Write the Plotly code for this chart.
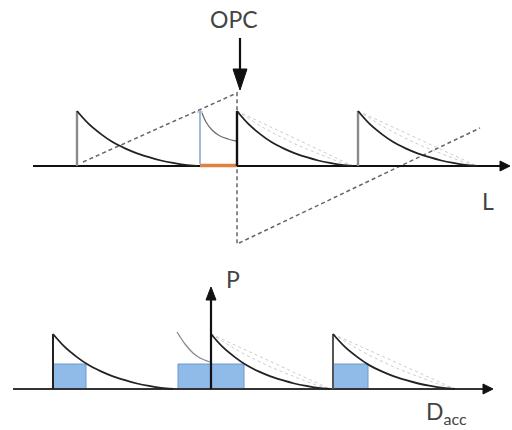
import plotly.graph_objects as go

# ---- diagram data (pixel space of the 512x430 canvas, y grows downward) ----
TOP_BASE = 166
BOT_BASE = 389
PULSE_H = 55

top_pulse_starts = [77, 237, 358]
top_pulse_ends = [197, 353, 477]
bot_pulse_starts = [53, 211, 333]
bot_pulse_ends = [173, 330, 455]

# decay profile (fraction of pulse height vs fraction of length)
decay_t = [0.0, 0.1, 0.2, 0.3, 0.4, 0.5, 0.6, 0.7, 0.8, 0.9, 1.0]
decay_frac = [1.0, 0.76, 0.58, 0.43, 0.32, 0.23, 0.16, 0.10, 0.055, 0.02, 0.0]
fan1_frac = [1.0, 0.9, 0.8, 0.7, 0.6, 0.5, 0.4, 0.3, 0.2, 0.1, 0.0]
fan2_frac = [1.0, 0.86, 0.73, 0.61, 0.5, 0.4, 0.31, 0.22, 0.14, 0.06, 0.0]

# dashed construction lines (top)
dash_x = [83, 237, 237, 480]
dash_y = [162, 93, 244, 128]

# OPC marker pieces
orange_x = [200, 237]
blue_stem_x = 200
blue_stem_top = 110
top_tail_x = [202, 206, 212, 220, 228, 236]
top_tail_y = [113, 122, 130, 136, 139, 141]
bot_tail_x = [177, 185, 193, 200, 210]
bot_tail_y = [332, 344, 353, 358, 362]

# blue boxes (bottom)
box_x0 = [53, 178, 333]
box_x1 = [86, 244, 368]
BOX_TOP = 364

fig = go.Figure()

def line(x, y, color, width, dash=None, shape="linear"):
    fig.add_trace(go.Scatter(x=x, y=y, mode="lines", hoverinfo="skip",
                             line=dict(color=color, width=width, dash=dash, shape=shape)))

def tri(x, y, color):
    fig.add_trace(go.Scatter(x=x, y=y, mode="lines", fill="toself", fillcolor=color,
                             hoverinfo="skip", line=dict(color=color, width=1)))

# boxes
for a, b in zip(box_x0, box_x1):
    fig.add_shape(type="rect", x0=a, x1=b, y0=BOX_TOP, y1=BOT_BASE,
                  fillcolor="rgba(125,175,228,0.85)", line=dict(color="#6A98CF", width=1), layer="below")

# dashed lines
line(dash_x, dash_y, "#666666", 1.5, dash="4px,3px")

# fans for later pulses
for starts, ends, base in [(top_pulse_starts, top_pulse_ends, TOP_BASE),
                           (bot_pulse_starts, bot_pulse_ends, BOT_BASE)]:
    for i, (s, e) in enumerate(zip(starts, ends)):
        if i == 0:
            continue
        for fr in (fan1_frac, fan2_frac):
            line([s + t * (e - s) for t in decay_t], [base - f * PULSE_H for f in fr],
                 "#cccccc", 1, dash="dot")

# axes
line([33, 500], [TOP_BASE, TOP_BASE], "#111111", 2)
tri([500, 500, 510, 500], [TOP_BASE - 5, TOP_BASE + 5, TOP_BASE, TOP_BASE - 5], "#111111")
line([13, 484], [BOT_BASE, BOT_BASE], "#333333", 2)
tri([483, 483, 493, 483], [BOT_BASE - 5, BOT_BASE + 5, BOT_BASE, BOT_BASE - 5], "#111111")

# orange segment and blue stem
line(orange_x, [TOP_BASE - 0.5, TOP_BASE - 0.5], "#E0823F", 3.5)
line([blue_stem_x, blue_stem_x], [TOP_BASE - 2, blue_stem_top], "#8FA9CC", 1.6)
line([blue_stem_x - 3, blue_stem_x + 3], [blue_stem_top + 2, blue_stem_top + 2], "#8FA9CC", 1)
line(top_tail_x, top_tail_y, "#6f6f6f", 1.3, shape="spline")
line(bot_tail_x, bot_tail_y, "#8a8a8a", 1.3, shape="spline")

# pulses top
for i, (s, e) in enumerate(zip(top_pulse_starts, top_pulse_ends)):
    line([s, s], [TOP_BASE, TOP_BASE - PULSE_H], "#111111" if i == 1 else "#8a8a8a", 2.4)
    line([s + t * (e - s) for t in decay_t], [TOP_BASE - f * PULSE_H for f in decay_frac],
         "#222222", 1.8, shape="spline")

# pulses bottom
for i, (s, e) in enumerate(zip(bot_pulse_starts, bot_pulse_ends)):
    if i != 1:
        line([s, s], [BOT_BASE, BOT_BASE - PULSE_H], "#222222" if i == 0 else "#555555", 2)
    line([s + t * (e - s) for t in decay_t], [BOT_BASE - f * PULSE_H for f in decay_frac],
         "#222222", 1.8, shape="spline")

# P arrow
line([211, 211], [BOT_BASE, 298], "#111111", 2.2)
tri([206, 216, 211, 206], [300, 300, 287, 300], "#111111")

# OPC arrow
line([240, 240], [38, 72], "#111111", 2.2)
tri([233, 247, 240, 233], [69, 69, 90, 69], "#111111")

font = dict(family="Lato, 'Open Sans', sans-serif", size=23, color="#444444")
anns = [
    dict(x=234, y=19, text="OPC"),
    dict(x=488, y=201, text="L"),
    dict(x=233, y=279, text="P"),
    dict(x=446, y=412, text="D<sub>acc</sub>"),
]
for a in anns:
    fig.add_annotation(x=a["x"], y=a["y"], text=a["text"], showarrow=False,
                       xref="x", yref="y", font=font, xanchor="center", yanchor="middle")

fig.update_layout(
    width=512, height=430, margin=dict(l=0, r=0, t=0, b=0),
    paper_bgcolor="white", plot_bgcolor="white", showlegend=False,
    xaxis=dict(range=[0, 512], visible=False, fixedrange=True),
    yaxis=dict(range=[430, 0], visible=False, fixedrange=True),
)
fig.write_html("out.html", config={"displayModeBar": False})
